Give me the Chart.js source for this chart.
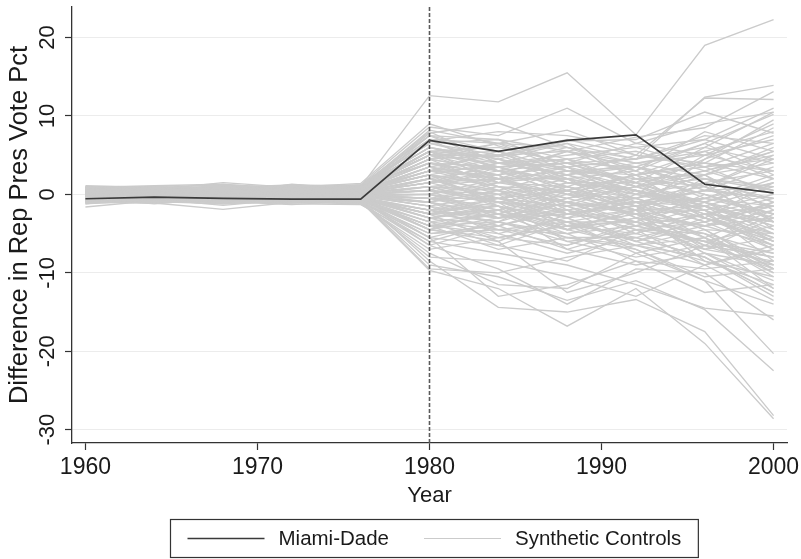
<!DOCTYPE html>
<html>
<head>
<meta charset="utf-8">
<script src="https://cdn.jsdelivr.net/npm/chart.js@4.4.1/dist/chart.umd.min.js"></script>
<style>
html, body { margin: 0; padding: 0; background: #fff; }
</style>
</head>
<body>
<canvas id="myChart" width="801" height="559"></canvas>
<script>
// election years
const years = [1960, 1964, 1968, 1972, 1976, 1980, 1984, 1988, 1992, 1996, 2000];
const xTicks = [1960, 1970, 1980, 1990, 2000];
const yTicks = [-30, -20, -10, 0, 10, 20];
const treatYear = 1980;
const seriesNames = ["Miami-Dade", "Synthetic Controls"];

const miamiDade = [-0.55, -0.35, -0.5, -0.6, -0.6, 6.9, 5.5, 6.9, 7.6, 1.3, 0.2];

// placebo (synthetic control) gaps, one row per county
const synthetic = [
  [0.5, 0.8, 0.3, 0.6, 1.0, 12.6, 11.8, 15.5, 7.6, 19.0, 22.3],
  [0.2, 0.4, 0.9, 0.5, 1.2, 8.6, 7.5, 11.0, 6.5, 9.0, 10.5],
  [-0.3, 0.1, 0.6, 0.2, 0.8, 7.8, 9.1, 6.0, 4.5, 12.4, 13.9],
  [0.6, 0.2, -0.2, 0.4, 0.9, 8.2, 6.5, 8.2, 5.0, 12.3, 12.1],
  [0.1, 0.5, 0.2, 0.8, 0.5, 7.5, 7.0, 5.5, 7.3, 8.5, 13.1],
  [-0.5, -0.2, 0.3, 0.1, 0.7, 6.8, 8.0, 7.5, 6.0, 7.0, 11.0],
  [0.9, 0.6, 1.5, 0.9, 1.4, 9.0, 6.2, 4.0, 3.5, 6.5, 10.2],
  [0.4, 0.3, 0.1, 1.3, 0.6, 5.5, 4.8, 6.8, 7.0, 10.5, 7.8],
  [-1.6, -0.8, -1.2, -0.7, -0.9, -9.7, -12.0, -16.8, -12.0, -19.0, -28.6],
  [-1.0, -1.1, -1.9, -1.0, -0.6, -8.5, -14.4, -15.0, -13.4, -17.5, -28.2],
  [-0.8, -0.5, -0.9, -1.3, -0.8, -9.0, -10.5, -13.5, -11.0, -14.7, -22.5],
  [-1.2, -0.4, -0.6, -0.8, -1.1, -7.5, -11.5, -12.0, -7.5, -11.0, -20.3],
  [-0.6, -0.9, -0.3, -0.5, -0.7, -6.5, -9.5, -14.0, -9.5, -10.0, -16.0],
  [-0.9, -0.7, -1.0, -0.4, -1.0, -8.0, -8.5, -10.5, -13.0, -9.0, -13.5],
  [-0.4, -1.2, -0.5, -0.9, -0.5, -5.5, -13.0, -11.5, -8.5, -12.5, -11.5],
  [-1.1, -0.3, -0.8, -1.2, -1.3, -6.0, -7.5, -9.0, -11.5, -14.5, -15.5],
  [-0.7, -0.6, -1.4, -0.6, -0.8, -9.5, -10.0, -8.0, -6.5, -8.0, -12.5],
  [-0.2, -0.8, -0.4, -1.0, -0.4, -4.5, -6.0, -12.5, -10.0, -6.5, -9.5],
  [0.3, 0.1, -0.2, 0.4, 0.2, 3.5, 2.0, 4.5, 1.0, 3.0, 5.5],
  [-0.4, -0.2, 0.1, -0.3, -0.5, -2.0, -3.5, -1.0, -4.0, -6.0, -8.0],
  [0.7, 0.5, 0.8, 0.6, 0.9, 6.0, 4.5, 2.5, 5.0, 4.0, 2.0],
  [-0.1, 0.3, -0.4, 0.0, 0.3, 1.0, -1.5, -3.0, -2.0, 1.5, -4.5],
  [0.5, 0.8, 0.4, 1.0, 1.1, 5.0, 5.5, 3.0, 0.5, -2.0, -6.0],
  [-0.8, -0.5, -0.6, -0.9, -0.7, -4.0, -2.5, -5.5, -6.5, -4.5, -9.0],
  [0.2, -0.1, 0.3, 0.2, 0.4, 2.0, 3.5, 0.5, 2.5, 5.5, 8.0],
  [0.0, 0.2, -0.1, -0.2, 0.1, -1.0, 0.5, -2.5, -1.0, -3.5, -1.5],
  [0.9, 0.7, 1.1, 0.8, 1.0, 7.0, 3.0, 5.5, 3.5, 2.0, -1.0],
  [-0.6, -0.3, -0.8, -0.5, -0.3, -3.0, -5.5, -4.0, -2.5, -7.5, -11.0],
  [0.4, 0.6, 0.2, 0.5, 0.6, 4.0, 1.5, 1.0, -1.5, 0.5, 3.5],
  [-0.2, -0.4, 0.0, -0.1, -0.2, 0.0, -2.0, 1.5, 0.0, -1.0, -3.0],
  [0.6, 0.3, 0.5, 0.7, 0.8, 5.5, 6.0, 4.0, 4.5, 7.5, 6.5],
  [-0.5, -0.7, -0.3, -0.6, -0.4, -2.5, -1.0, -6.0, -5.0, -2.5, -6.5],
  [0.1, 0.4, 0.6, 0.3, 0.5, 2.5, 0.0, 2.0, -3.0, -5.0, -10.0],
  [0.8, 1.0, 0.7, 1.1, 1.2, 6.5, 5.0, 6.5, 2.0, 1.0, 4.5],
  [-0.3, 0.0, -0.5, -0.2, 0.0, -0.5, 1.0, -0.5, -2.5, -4.0, -2.0],
  [0.2, 0.1, 0.4, -0.1, 0.2, 1.5, -0.5, -1.5, 1.5, 3.0, 0.5],
  [-0.9, -0.6, -1.1, -0.7, -0.9, -5.0, -4.0, -7.0, -4.5, -9.0, -7.0],
  [0.5, 0.2, 0.9, 0.4, 0.7, 4.5, 3.0, 2.0, 3.0, -0.5, 1.5],
  [-0.1, -0.3, 0.2, 0.1, -0.1, 0.5, -3.0, -2.0, -6.0, -3.0, -5.0],
  [1.0, 0.8, 0.6, 1.2, 1.0, 7.5, 5.5, 1.5, -0.5, 2.5, 6.0],
  [-0.7, -0.9, -0.4, -0.8, -0.6, -3.5, -6.5, -3.5, -7.5, -5.5, -12.0],
  [0.3, 0.5, 0.0, 0.2, 0.3, 3.0, 2.5, 3.5, -1.0, -1.5, -3.5],
  [-0.4, -0.1, -0.6, -0.4, -0.2, -1.5, 0.0, -4.5, -3.0, -0.5, 2.5],
  [0.6, 0.9, 0.3, 0.8, 0.9, 5.0, 2.0, -0.5, 1.0, 4.5, 9.5],
  [0.0, -0.2, 0.4, 0.0, 0.1, 1.0, 2.0, 0.0, -1.5, -7.0, -8.5],
  [-0.6, -0.4, -0.2, -0.7, -0.5, -2.0, -4.5, -6.5, -4.0, -6.0, -4.0],
  [0.7, 0.4, 1.0, 0.6, 0.8, 6.0, 4.0, 5.0, 6.0, 3.5, 0.0],
  [-0.2, 0.1, -0.3, -0.4, -0.3, -0.5, -1.5, -3.5, -5.5, -8.0, -13.0],
  [0.4, 0.2, 0.7, 0.3, 0.5, 3.0, 4.5, 1.5, 0.5, -2.5, -0.5],
  [-1.0, -0.8, -0.7, -1.1, -0.8, -4.5, -3.0, -2.5, -1.5, -3.0, -6.0],
  [0.1, 0.3, -0.2, 0.2, 0.0, 0.0, -2.5, -0.5, 2.0, 0.0, -2.5],
  [0.8, 0.6, 0.9, 0.9, 1.1, 6.5, 7.0, 3.5, 1.5, 6.0, 4.0],
  [-0.3, -0.5, -0.1, -0.3, -0.4, -1.0, -4.0, -2.0, -3.5, -5.0, -7.5],
  [0.3, 0.0, 0.5, 0.5, 0.4, 2.5, 1.0, -1.0, -2.0, 2.0, 1.0],
  [-0.5, -0.2, -0.7, -0.2, -0.6, -3.0, -2.0, -4.0, -7.0, -10.5, -9.5],
  [0.6, 0.7, 0.2, 0.6, 0.7, 4.5, 5.0, 5.5, 2.5, 0.0, -3.0],
  [-0.1, 0.2, 0.1, -0.3, 0.0, 0.5, 0.0, 1.0, -0.5, 1.0, 5.0],
  [0.2, -0.2, 0.3, 0.1, 0.3, 2.0, -1.0, -3.0, 0.0, -2.0, -5.5],
  [-0.8, -1.0, -0.5, -0.6, -0.8, -4.0, -5.0, -3.0, -6.0, -8.5, -10.5],
  [0.9, 1.1, 1.3, 0.7, 1.0, 8.0, 4.0, 2.5, 4.0, 5.0, 7.0],
  [-0.2, -0.1, -0.3, 0.0, -0.1, -0.5, -2.0, -5.0, -4.0, -1.5, -3.5],
  [0.5, 0.3, 0.6, 0.9, 0.6, 4.0, 3.5, 4.5, 3.0, 6.5, 2.5],
  [-0.4, -0.6, -0.8, -0.5, -0.5, -2.5, -3.5, 0.5, -2.0, -6.5, -2.5],
  [0.0, 0.4, 0.0, 0.3, 0.2, 1.5, 2.5, -2.0, -4.5, -3.5, -7.0],
  [0.4, 0.1, 0.8, 0.2, 0.4, 3.5, 0.5, 3.0, 1.0, -1.0, -4.0],
  [-0.7, -0.3, -0.9, -0.8, -0.7, -3.5, -4.5, -5.0, -3.0, -4.0, -1.0],
  [0.7, 0.9, 0.4, 1.0, 0.9, 5.5, 3.0, 0.0, -2.5, 1.5, 3.0],
  [-0.1, 0.0, 0.2, -0.2, -0.1, 0.0, 1.5, 2.5, 0.5, -1.5, -6.0],
  [0.3, 0.6, 0.1, 0.4, 0.5, 3.0, 2.0, -1.5, -1.0, -5.5, -9.0],
  [-0.6, -0.8, -0.2, -0.3, -0.6, -2.0, -0.5, -1.5, -5.0, -7.0, -3.0],
  [0.5, 0.5, 0.7, 0.6, 0.6, 4.5, 6.5, 4.5, 5.5, 3.0, 5.0],
  [-0.3, 0.2, -0.4, 0.1, -0.2, -1.5, -3.0, -0.5, 1.0, -2.0, 0.0],
  [0.2, 0.0, 0.5, 0.3, 0.1, 1.0, 0.5, -4.0, -3.5, -6.0, -10.0],
  [-0.9, -0.7, -0.6, -1.0, -1.0, -5.5, -3.5, -6.0, -8.0, -6.5, -8.0],
  [0.6, 0.8, 0.8, 0.5, 0.8, 5.0, 4.0, 6.0, 4.0, 2.5, -2.0],
  [0.1, -0.1, 0.3, -0.1, 0.1, 0.5, -1.0, 0.5, -1.0, 0.5, -0.5],
  [-0.5, -0.4, -0.5, -0.7, -0.3, -2.5, -6.0, -2.5, -1.5, -4.5, -5.0],
  [0.4, 0.3, 0.3, 0.7, 0.4, 2.5, 1.5, 2.5, 3.5, 1.0, -1.5],
  [0.2, 0.5, -0.1, 0.5, 0.3, 1.5, 3.0, 1.0, -2.0, 4.5, 7.5],
  [-0.3, -0.6, 0.0, -0.5, -0.3, -1.0, -2.5, -3.5, -2.0, -8.5, -11.5],
  [0.8, 0.4, 0.6, 0.4, 0.7, 5.5, 1.5, 3.5, 0.0, 5.0, 3.0],
  [-0.7, -0.2, -0.9, -0.3, -0.5, -3.0, -1.5, -7.0, -9.0, -7.5, -12.0],
  [0.0, 0.1, 0.2, 0.2, -0.1, 2.0, -0.5, 0.5, 2.5, -3.0, 1.5],
  [0.9, 0.4, 0.7, 1.0, 0.6, 3.0, 5.5, 2.0, 0.5, -1.0, 2.0],
  [-1.1, -0.9, -1.2, -0.9, -1.1, -6.5, -4.0, -2.0, -4.5, -5.0, -9.5],
  [0.6, 1.0, 0.5, 0.4, 1.0, 7.0, 6.5, 6.0, 3.0, 8.0, 5.5],
  [-0.5, -1.0, -0.2, -0.9, -0.2, -1.5, -5.0, -7.5, -5.5, -3.5, -1.5],
  [1.1, 0.9, 1.2, 0.9, 1.1, 4.0, 2.5, -2.5, -3.5, -1.0, -5.0],
  [-0.2, 0.5, -0.5, 0.6, 0.0, 0.5, 3.5, 4.0, 1.5, -1.5, 1.0],
  [0.3, -0.3, 0.9, -0.2, 0.5, 2.5, -1.5, -4.5, -6.5, -9.0, -6.5],
  [-0.8, -0.1, -0.7, -0.1, -0.4, -4.5, -2.0, 0.0, -0.5, 2.5, 4.0],
  [0.7, 0.2, 0.5, 1.1, 0.9, 6.0, 3.5, 1.0, 3.5, 1.0, -3.5],
  [-1.0, -0.5, -0.9, -0.6, -0.9, -5.5, -6.5, -8.5, -4.5, -6.0, -7.5],
  [0.1, 0.9, 0.2, 0.8, 0.2, 1.5, 4.0, 3.5, 4.5, 6.0, 10.5],
  [-0.3, -0.7, 0.5, -0.6, -0.1, -0.5, -2.5, 1.0, -1.5, -4.5, -9.5],
  [0.5, 0.6, 1.0, 0.3, 0.6, 4.5, 1.0, -2.5, 0.5, -1.5, -4.0],
  [-0.6, -0.3, -0.9, -0.2, -0.6, -2.5, -0.5, -3.0, -6.5, -5.5, -2.0],
  [0.8, 0.5, 0.3, 0.9, 0.5, 3.5, 5.0, 7.0, 5.0, 3.5, 6.5],
  [-0.4, 0.0, -0.2, -0.7, -0.1, 0.0, -1.0, -2.0, -0.5, -3.0, -6.0],
  [0.2, 0.7, 0.0, 0.6, 0.7, 5.0, 3.0, 4.0, 1.0, 2.0, 0.5],
  [-0.9, -1.1, -0.5, -1.1, -0.6, -4.0, -7.0, -5.5, -7.0, -11.0, -14.0],
  [0.4, -0.1, 0.7, 0.0, 0.3, 2.0, 0.5, -1.0, -3.5, 0.0, -2.5],
  [-0.1, 0.4, -0.3, 0.3, -0.2, -1.0, 1.5, 0.0, 2.5, 4.0, 3.0],
  [1.0, 0.7, 0.9, 1.2, 0.8, 5.0, 6.5, 3.0, 2.5, 4.0, 8.5],
  [-0.7, -0.5, -1.0, -0.4, -0.9, -3.5, -2.5, -4.5, -2.0, -1.5, -4.5],
  [0.3, 0.8, 0.1, 0.5, 0.4, 2.5, 4.0, 2.5, -0.5, -3.5, -1.0],
  [-0.5, -0.2, -0.4, -0.8, -0.4, -2.0, -3.0, -1.0, -2.5, -5.5, -10.5],
  [0.6, 0.3, 0.8, 0.2, 0.6, 4.0, 2.5, 5.5, 4.0, 5.5, 2.0],
  [0.0, -0.4, 0.3, -0.4, -0.2, 1.0, -1.0, -1.5, -4.0, -2.5, -7.0],
  [-0.9, -0.6, -0.3, -0.9, -0.7, -4.5, -5.5, -6.5, -3.5, -7.0, -5.5],
  [0.5, 1.0, 0.6, 0.7, 1.0, 6.5, 4.5, 3.0, 3.5, 0.5, 1.0],
  [-0.2, -0.5, 0.0, -0.1, 0.1, 0.5, -0.5, -2.5, -1.0, -0.5, -1.5],
  [0.2, 0.4, 0.4, 0.2, 0.3, 3.0, 1.0, 0.5, -2.0, -4.0, -3.0],
  [-1.2, -0.7, -1.0, -1.0, -1.2, -7.0, -5.5, -4.0, -5.0, -2.5, -3.5],
  [0.7, 0.6, 0.2, 0.9, 0.7, 5.5, 3.5, 4.0, 6.5, 5.0, 9.0],
  [-0.4, -0.8, -0.6, -0.3, -0.5, -3.0, -4.0, -1.5, -0.5, -3.0, -5.5],
  [0.1, 0.2, 0.7, 0.1, 0.2, 1.5, 2.0, 2.0, 0.0, 1.5, -0.5],
  [-0.6, 0.1, -0.4, -0.6, -0.3, -2.0, -1.5, -3.5, -3.5, -6.5, -8.0],
  [0.9, 0.5, 1.0, 0.7, 1.2, 7.5, 4.0, 4.5, 1.5, -1.0, 1.5],
  [-0.1, -0.2, -0.1, 0.4, 0.0, 0.0, 2.0, -1.0, -2.5, -2.0, -5.0],
  [0.4, 0.9, 0.5, 0.5, 0.8, 4.5, 3.0, 0.0, 2.5, 3.5, 4.5],
  [-0.7, -0.4, -0.6, -0.8, -0.8, -4.0, -3.5, -5.5, -5.5, -8.0, -12.5],
  [0.2, 0.1, -0.3, 0.3, 0.2, 2.0, -0.5, 1.5, 0.5, -2.5, -1.5],
  [-0.3, -0.1, -0.7, -0.1, -0.3, -1.0, -3.0, -2.5, -1.0, 0.5, -0.5],
  [0.6, 0.4, 0.4, 0.8, 0.5, 3.5, 2.0, 3.0, 2.0, 2.5, 5.5],
  [-0.8, -0.6, -0.8, -0.7, -1.0, -5.0, -4.5, -3.5, -6.0, -4.0, -6.5],
  [0.5, 0.7, 0.9, 0.6, 0.7, 5.0, 5.0, 2.0, -1.5, -0.5, -2.5],
  [-0.2, -0.3, 0.2, -0.5, -0.1, -0.5, -0.5, 0.5, -3.0, -7.5, -9.0],
  [0.8, 0.8, 0.5, 1.0, 0.9, 6.0, 4.5, 6.5, 4.5, 7.0, 4.5],
  [-0.5, -0.5, -0.1, -0.6, -0.5, -2.5, -2.0, -4.5, -2.0, -2.0, -8.5],
  [0.1, 0.6, -0.1, 0.4, 0.1, 1.0, 0.0, -1.0, 1.0, 2.5, -3.5],
  [-1.0, -0.6, -0.8, -0.8, -0.9, -6.0, -3.5, -5.0, -8.5, -9.5, -8.5],
  [0.3, 0.2, 0.6, 0.1, 0.4, 3.0, 3.5, 1.5, 1.5, -3.0, -6.5]
];

const fontFamily = '"Liberation Sans", Arial, Helvetica, sans-serif';
const textColor = '#1a1a1a';
const axisColor = '#333333';
const miamiColor = '#3a3a3a';
const synthColor = '#cbcbcb';

function toPoints(vals) {
  return vals.map((v, i) => ({ x: years[i], y: v }));
}

const datasets = [{
  label: seriesNames[0],
  data: toPoints(miamiDade),
  borderColor: miamiColor,
  borderWidth: 1.7
}];
synthetic.forEach(row => {
  datasets.push({
    label: seriesNames[1],
    data: toPoints(row),
    borderColor: synthColor,
    borderWidth: 1.35
  });
});

// dashed line at the treatment year
const treatLine = {
  id: 'treatLine',
  afterDatasetsDraw(chart) {
    const ctx = chart.ctx;
    const area = chart.chartArea;
    const x = chart.scales.x.getPixelForValue(treatYear);
    ctx.save();
    ctx.strokeStyle = '#5a5a5a';
    ctx.lineWidth = 1.6;
    ctx.setLineDash([4, 2]);
    ctx.beginPath();
    ctx.moveTo(x, area.top);
    ctx.lineTo(x, area.bottom);
    ctx.stroke();
    ctx.restore();
  }
};

// Stata-style boxed legend
const boxLegend = {
  id: 'boxLegend',
  afterDraw(chart) {
    const ctx = chart.ctx;
    const area = chart.chartArea;
    const items = [
      { label: seriesNames[0], color: miamiColor, w: 1.7 },
      { label: seriesNames[1], color: synthColor, w: 1.2 }
    ];
    ctx.save();
    ctx.font = '20.5px ' + fontFamily;
    const sample = 77, gapText = 14, gapItem = 35, padX = 17;
    const widths = items.map(it => ctx.measureText(it.label).width);
    let total = padX * 2 + gapItem * (items.length - 1);
    items.forEach((it, i) => { total += sample + gapText + widths[i]; });
    const cx = (area.left + area.right) / 2 + 4;
    const left = Math.round(cx - total / 2) + 0.5;
    const top = chart.height - 40 + 0.5;
    const h = 38;
    ctx.strokeStyle = axisColor;
    ctx.lineWidth = 1.2;
    ctx.strokeRect(left, top, total, h);
    let x = left + padX;
    const y = top + h / 2;
    items.forEach((it, i) => {
      ctx.strokeStyle = it.color;
      ctx.lineWidth = it.w;
      ctx.beginPath();
      ctx.moveTo(x, y);
      ctx.lineTo(x + sample, y);
      ctx.stroke();
      x += sample + gapText;
      ctx.fillStyle = textColor;
      ctx.textAlign = 'left';
      ctx.textBaseline = 'middle';
      ctx.fillText(it.label, x, y + 1);
      x += widths[i] + gapItem;
    });
    ctx.restore();
  }
};

new Chart(document.getElementById('myChart'), {
  type: 'line',
  data: { datasets: datasets },
  options: {
    responsive: false,
    animation: false,
    layout: { padding: { top: 7, right: 14, bottom: 42, left: 0 } },
    elements: { point: { radius: 0 }, line: { tension: 0 } },
    plugins: { legend: { display: false }, tooltip: { enabled: false } },
    scales: {
      x: {
        type: 'linear',
        min: 1959.22,
        max: 2000.78,
        afterBuildTicks: s => { s.ticks = xTicks.map(v => ({ value: v })); },
        afterFit: s => { s.height = 74; s.paddingLeft = 0; s.paddingRight = 0; },
        grid: { drawOnChartArea: false, drawTicks: true, tickLength: 7, tickColor: axisColor, tickWidth: 1.2 },
        border: { color: axisColor, width: 1.3 },
        ticks: {
          autoSkip: false, maxRotation: 0, padding: 4, color: textColor,
          font: { family: fontFamily, size: 23 },
          callback: v => String(v)
        },
        title: {
          display: true, text: 'Year', color: textColor,
          font: { family: fontFamily, size: 22 },
          padding: { top: 0, bottom: 8 }
        }
      },
      y: {
        type: 'linear',
        min: -31.7,
        max: 23.9,
        afterBuildTicks: s => { s.ticks = yTicks.map(v => ({ value: v })); },
        afterFit: s => { s.width = 72; s.paddingTop = 0; s.paddingBottom = 0; },
        grid: { color: '#ececec', lineWidth: 1, drawTicks: true, tickLength: 7, tickColor: axisColor, tickWidth: 1.2 },
        border: { color: axisColor, width: 1.3 },
        ticks: {
          autoSkip: false, minRotation: 90, maxRotation: 90, crossAlign: 'center',
          padding: 1, color: textColor,
          font: { family: fontFamily, size: 22 }
        },
        title: {
          display: true, text: 'Difference in Rep Pres Vote Pct', color: textColor,
          font: { family: fontFamily, size: 25.5 },
          padding: { top: 5, bottom: 0 }
        }
      }
    }
  },
  plugins: [treatLine, boxLegend]
});
</script>
</body>
</html>
